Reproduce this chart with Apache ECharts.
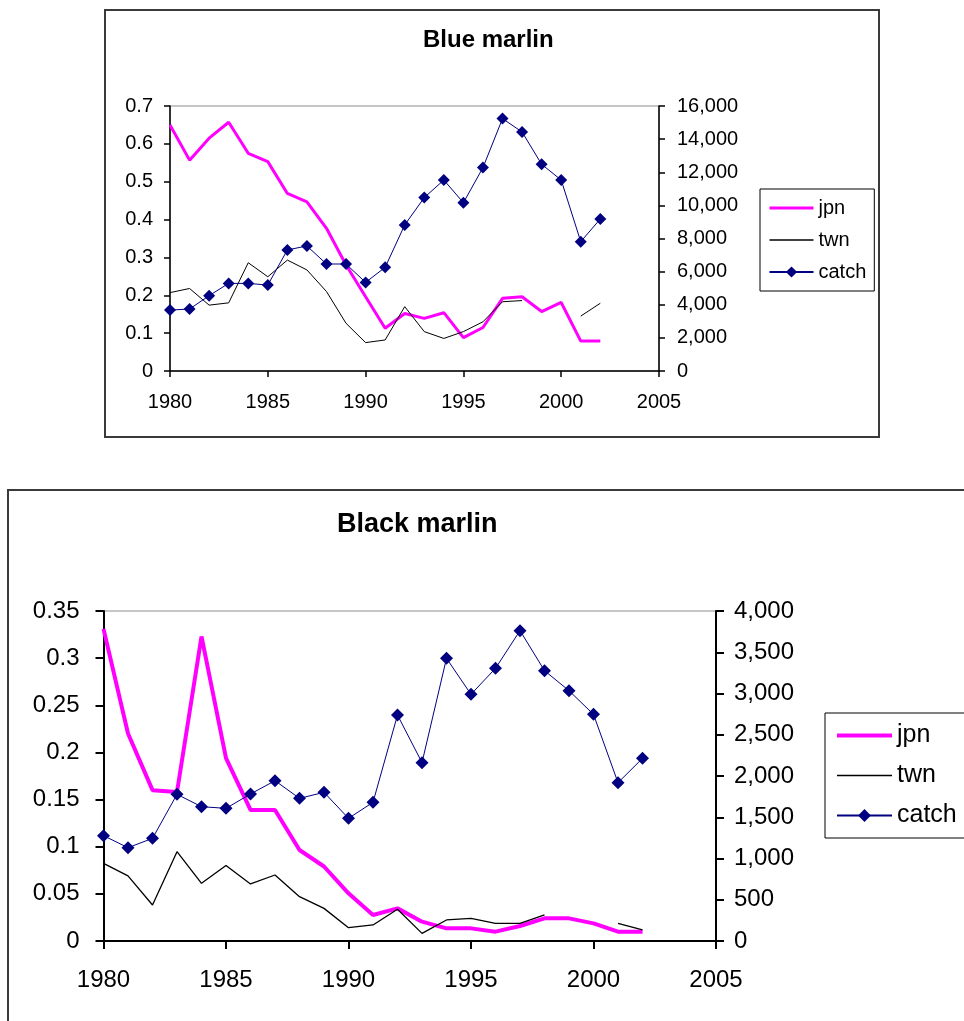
<!DOCTYPE html>
<html>
<head>
<meta charset="utf-8">
<script src="https://cdn.jsdelivr.net/npm/echarts@6/dist/echarts.min.js"></script>
<style>
html, body {
  margin: 0;
  padding: 0;
  width: 964px;
  height: 1021px;
  overflow: hidden;
  background: #fff;
}
#blue-chart {
  position: absolute;
  left: 104px;
  top: 9px;
  width: 776px;
  height: 429px;
}
#black-chart {
  position: absolute;
  left: 7px;
  top: 489px;
  width: 1000px;
  height: 600px;
}
</style>
</head>
<body>
<div id="blue-chart"></div>
<div id="black-chart"></div>
<script>
const FONT = '"Liberation Sans", Arial, sans-serif'

const years = [1980, 1981, 1982, 1983, 1984, 1985, 1986, 1987, 1988, 1989, 1990, 1991,
  1992, 1993, 1994, 1995, 1996, 1997, 1998, 1999, 2000, 2001, 2002]

// Blue marlin
const blueJpn = [0.65, 0.557, 0.615, 0.657, 0.575, 0.553, 0.469, 0.447, 0.377, 0.28, 0.196, 0.113,
  0.152, 0.139, 0.154, 0.088, 0.115, 0.192, 0.196, 0.157, 0.181, 0.079, 0.079]
const blueTwn = [0.207, 0.218, 0.174, 0.18, 0.286, 0.249, 0.293, 0.267, 0.21, 0.126, 0.075, 0.082,
  0.17, 0.104, 0.086, 0.104, 0.13, 0.183, 0.186, null, null, 0.145, 0.179]
const blueCatch = [3680, 3740, 4550, 5290, 5290, 5190, 7310, 7550, 6460, 6460, 5350, 6260,
  8820, 10470, 11530, 10160, 12280, 15240, 14430, 12480, 11530, 7810, 9180]

// Black marlin
const blackJpn = [0.331, 0.22, 0.16, 0.158, 0.323, 0.194, 0.139, 0.139, 0.0965, 0.079, 0.0506, 0.0276,
  0.0346, 0.0205, 0.0134, 0.0134, 0.0099, 0.0159, 0.024, 0.024, 0.0187, 0.0099, 0.0099]
const blackTwn = [0.0824, 0.069, 0.0382, 0.0947, 0.0612, 0.08, 0.0605, 0.07, 0.047, 0.0346, 0.0141, 0.017,
  0.0336, 0.0081, 0.0223, 0.024, 0.0187, 0.0187, 0.0276, null, null, 0.0187, 0.0117]
const blackCatch = [1277, 1131, 1244, 1778, 1628, 1608, 1782, 1943, 1729, 1802, 1487, 1681,
  2739, 2162, 3426, 2990, 3305, 3762, 3277, 3034, 2747, 1919, 2214]

function pairs(values) {
  return years.map((year, i) => [year, values[i]])
}

function formatRate(value) {
  return String(Number(value.toFixed(2)))
}

function formatCount(value) {
  return String(Math.round(value)).replace(/\B(?=(\d{3})+(?!\d))/g, ',')
}

function buildOption(cfg) {
  let axisLine = { lineStyle: { color: '#000', width: cfg.axisWidth } }
  let axisTick = { show: true, length: cfg.tickLen, lineStyle: { color: '#000', width: cfg.axisWidth } }
  let labelStyle = { color: '#000', fontSize: cfg.tickFont, fontFamily: FONT }
  return {
    animation: false,
    backgroundColor: '#fff',
    graphic: [
      {
        type: 'rect',
        silent: true,
        shape: cfg.frame,
        style: { fill: 'none', stroke: '#3a3a3a', lineWidth: 2 }
      }
    ],
    title: {
      text: cfg.title,
      left: cfg.titleLeft,
      top: cfg.titleTop,
      padding: 0,
      textStyle: {
        color: '#000',
        fontSize: cfg.titleFont,
        fontWeight: 'bold',
        fontFamily: FONT
      }
    },
    legend: {
      // plain line icons for jpn / twn, no marker
      data: [
        { name: 'jpn', itemStyle: { opacity: 0 }, lineStyle: { width: cfg.jpnWidth } },
        { name: 'twn', itemStyle: { opacity: 0 }, lineStyle: { width: 1.6 } },
        { name: 'catch' }
      ],
      orient: 'vertical',
      left: cfg.legend.left,
      top: cfg.legend.top,
      padding: cfg.legend.padding,
      itemGap: cfg.legend.gap,
      itemWidth: cfg.legend.itemWidth,
      itemHeight: cfg.legend.itemHeight,
      borderColor: '#000',
      borderWidth: 1,
      selectedMode: false,
      textStyle: {
        color: '#000',
        fontSize: cfg.legend.font,
        fontFamily: FONT
      }
    },
    grid: {
      left: cfg.grid.left,
      top: cfg.grid.top,
      width: cfg.grid.width,
      height: cfg.grid.height,
      show: true,
      borderColor: '#8c8c8c',
      borderWidth: 1,
      backgroundColor: '#fff'
    },
    xAxis: {
      type: 'value',
      min: 1980,
      max: 2005,
      interval: 5,
      axisLine: axisLine,
      axisTick: axisTick,
      axisLabel: Object.assign({ margin: cfg.xMargin, formatter: value => String(value) }, labelStyle),
      splitLine: { show: false }
    },
    yAxis: [
      {
        type: 'value',
        min: 0,
        max: cfg.leftMax,
        interval: cfg.leftStep,
        axisLine: Object.assign({ show: true }, axisLine),
        axisTick: axisTick,
        axisLabel: Object.assign({ margin: cfg.leftMargin, formatter: formatRate }, labelStyle),
        splitLine: { show: false }
      },
      {
        type: 'value',
        min: 0,
        max: cfg.rightMax,
        interval: cfg.rightStep,
        position: 'right',
        axisLine: Object.assign({ show: true }, axisLine),
        axisTick: axisTick,
        axisLabel: Object.assign({ margin: cfg.rightMargin, formatter: formatCount }, labelStyle),
        splitLine: { show: false }
      }
    ],
    series: [
      {
        name: 'jpn',
        type: 'line',
        yAxisIndex: 0,
        symbol: 'none',
        itemStyle: { color: '#ff00ff' },
        lineStyle: { color: '#ff00ff', width: cfg.jpnWidth },
        data: pairs(cfg.jpn)
      },
      {
        name: 'twn',
        type: 'line',
        yAxisIndex: 0,
        symbol: 'none',
        connectNulls: false,
        itemStyle: { color: '#000' },
        lineStyle: { color: '#000', width: cfg.twnWidth },
        data: pairs(cfg.twn)
      },
      {
        name: 'catch',
        type: 'line',
        yAxisIndex: 1,
        symbol: 'diamond',
        symbolSize: cfg.markSize,
        itemStyle: { color: '#000080' },
        lineStyle: { color: '#000080', width: 1 },
        data: pairs(cfg.catchValues)
      }
    ]
  }
}

let blueChart = echarts.init(document.getElementById('blue-chart'))
blueChart.setOption(buildOption({
  title: 'Blue marlin',
  titleLeft: 319,
  titleTop: 19,
  titleFont: 24,
  frame: { x: 1, y: 1, width: 774, height: 427 },
  grid: { left: 66, top: 97, width: 489, height: 265 },
  legend: { left: 656, top: 180, padding: [9, 8, 9, 8], gap: 12, itemWidth: 44, itemHeight: 14, font: 20 },
  tickFont: 20,
  tickLen: 6,
  axisWidth: 1.5,
  xMargin: 21,
  leftMargin: 17,
  rightMargin: 18,
  leftMax: 0.7,
  leftStep: 0.1,
  rightMax: 16000,
  rightStep: 2000,
  jpnWidth: 3,
  twnWidth: 1,
  markSize: 12,
  jpn: blueJpn,
  twn: blueTwn,
  catchValues: blueCatch
}))

let blackChart = echarts.init(document.getElementById('black-chart'))
blackChart.setOption(buildOption({
  title: 'Black marlin',
  titleLeft: 330,
  titleTop: 22,
  titleFont: 27,
  frame: { x: 1, y: 1, width: 990, height: 590 },
  grid: { left: 96.5, top: 122, width: 612.5, height: 330 },
  legend: { left: 818, top: 224, padding: [10, 10, 10, 10], gap: 15, itemWidth: 55, itemHeight: 16, font: 25 },
  tickFont: 24,
  tickLen: 8,
  axisWidth: 2,
  xMargin: 27,
  leftMargin: 24,
  rightMargin: 18,
  leftMax: 0.35,
  leftStep: 0.05,
  rightMax: 4000,
  rightStep: 500,
  jpnWidth: 4,
  twnWidth: 1.3,
  markSize: 13,
  jpn: blackJpn,
  twn: blackTwn,
  catchValues: blackCatch
}))
</script>
</body>
</html>
